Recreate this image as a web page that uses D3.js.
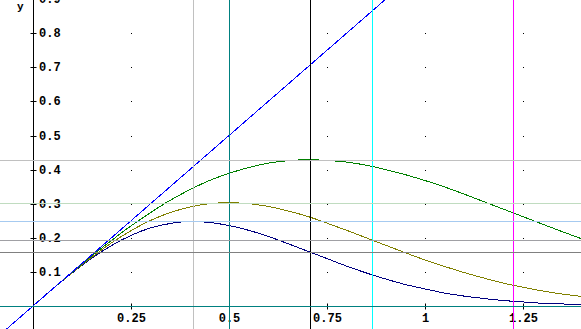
<!DOCTYPE html>
<html>
<head>
<meta charset="utf-8">
<script src="https://cdn.jsdelivr.net/npm/d3@7/dist/d3.min.js"></script>
<style>
  html, body { margin: 0; padding: 0; background: #fff; }
  svg { display: block; }
  text { font-family: "Liberation Mono", "DejaVu Sans Mono", monospace; font-weight: bold; fill: #000; }
</style>
</head>
<body>
<script>
const width = 581;
const height = 329;

// sample points
const xs = [0, 0.05, 0.1, 0.15, 0.2, 0.25, 0.3, 0.35, 0.4, 0.45, 0.5, 0.55, 0.6, 0.65, 0.7,
  0.75, 0.8, 0.85, 0.9, 0.95, 1.0, 1.05, 1.1, 1.15, 1.2, 1.25, 1.3, 1.35, 1.4];
const greenY = [0, 0.050, 0.099, 0.147, 0.192, 0.235, 0.274, 0.310, 0.341, 0.368, 0.389, 0.406,
  0.419, 0.426, 0.429, 0.427, 0.422, 0.413, 0.400, 0.385, 0.368, 0.349, 0.328, 0.306, 0.284,
  0.262, 0.240, 0.218, 0.197];
const oliveY = [0, 0.050, 0.098, 0.143, 0.185, 0.221, 0.251, 0.274, 0.290, 0.300, 0.303, 0.300,
  0.292, 0.279, 0.263, 0.243, 0.222, 0.200, 0.178, 0.156, 0.135, 0.116, 0.098, 0.082, 0.067,
  0.055, 0.044, 0.035, 0.028];
const navyY = [0, 0.050, 0.097, 0.140, 0.177, 0.207, 0.229, 0.242, 0.248, 0.245, 0.236, 0.222,
  0.204, 0.183, 0.161, 0.139, 0.117, 0.097, 0.079, 0.063, 0.050, 0.038, 0.029, 0.022, 0.016,
  0.012, 0.008, 0.006, 0.004];

// straight line y = x
const diagX = [-0.07, 0.9];
const diagY = [-0.07, 0.9];

// marker lines
const vLines = [0.408, 0.5, 0.707, 0.866, 1.225];
const vColors = ["#c0c0c0", "#008080", "#000000", "#00ffff", "#ff00ff"];
const hLines = [0.429, 0.303, 0.248, 0.193, 0.158, 0];
const hColors = ["#c0c0c0", "#c0dcc0", "#a6caf0", "#a0a0a4", "#808080", "#008080"];

const xTicks = [0.25, 0.5, 0.75, 1, 1.25];
const xTickLabels = ["0.25", "0.5", "0.75", "1", "1.25"];
const yTicks = [0.1, 0.2, 0.3, 0.4, 0.5, 0.6, 0.7, 0.8, 0.9];
const yTickLabels = ["0.1", "0.2", "0.3", "0.4", "0.5", "0.6", "0.7", "0.8", "0.9"];

const x = d3.scaleLinear().domain([0, 1]).range([33, 425]);
const y = d3.scaleLinear().domain([0, 1]).range([306, -35]);
const px = v => Math.round(x(v)) + 0.5;
const py = v => Math.round(y(v)) + 0.5;

const svg = d3.select("body").append("svg")
  .attr("width", width)
  .attr("height", height);

// grid dots
yTicks.forEach(t => {
  svg.append("g")
    .selectAll("rect")
    .data(xTicks)
    .join("rect")
    .attr("x", d => Math.round(x(d)))
    .attr("y", Math.round(y(t)))
    .attr("width", 1)
    .attr("height", 1)
    .attr("fill", "#000");
});

// axes
svg.append("line")
  .attr("x1", px(0)).attr("x2", px(0))
  .attr("y1", 0).attr("y2", height)
  .attr("stroke", "#000");
svg.append("line")
  .attr("x1", 0).attr("x2", width)
  .attr("y1", py(0)).attr("y2", py(0))
  .attr("stroke", "#000");

svg.append("g")
  .selectAll("line")
  .data(yTicks)
  .join("line")
  .attr("x1", px(0) - 3).attr("x2", px(0) + 3)
  .attr("y1", d => py(d)).attr("y2", d => py(d))
  .attr("stroke", "#000");

svg.append("g")
  .selectAll("line")
  .data(xTicks)
  .join("line")
  .attr("x1", d => px(d)).attr("x2", d => px(d))
  .attr("y1", py(0) - 3).attr("y2", py(0) + 3)
  .attr("stroke", "#000");

svg.append("g")
  .selectAll("text")
  .data(yTicks)
  .join("text")
  .attr("x", 39)
  .attr("y", d => Math.round(y(d)) + 4)
  .style("font-size", "12px")
  .text((d, i) => yTickLabels[i]);

svg.append("g")
  .selectAll("text")
  .data(xTicks)
  .join("text")
  .attr("x", d => px(d))
  .attr("y", 322)
  .attr("text-anchor", "middle")
  .style("font-size", "12px")
  .text((d, i) => xTickLabels[i]);

svg.append("text")
  .attr("x", 17)
  .attr("y", 10)
  .style("font-size", "11px")
  .text("y");

// curves
const line = d3.line()
  .x(d => x(d[0]))
  .y(d => y(d[1]))
  .curve(d3.curveMonotoneX);

const curves = [
  { ys: navyY, color: "#000080" },
  { ys: oliveY, color: "#808000" },
  { ys: greenY, color: "#008000" }
];

svg.append("g")
  .selectAll("path")
  .data(curves)
  .join("path")
  .attr("d", c => line(xs.map((v, i) => [v, c.ys[i]])))
  .attr("fill", "none")
  .attr("stroke", c => c.color)
  .attr("stroke-width", 1)
  .attr("shape-rendering", "crispEdges");

svg.append("path")
  .attr("d", d3.line().x(d => x(d[0])).y(d => y(d[1])).curve(d3.curveLinear)(diagX.map((v, i) => [v, diagY[i]])))
  .attr("fill", "none")
  .attr("stroke", "#0000ff")
  .attr("stroke-width", 1)
  .attr("shape-rendering", "crispEdges");

// marker lines on top
svg.append("g")
  .selectAll("line")
  .data(vLines)
  .join("line")
  .attr("x1", d => px(d)).attr("x2", d => px(d))
  .attr("y1", 0).attr("y2", height)
  .attr("stroke", (d, i) => vColors[i]);

svg.append("g")
  .selectAll("line")
  .data(hLines)
  .join("line")
  .attr("x1", 0).attr("x2", width)
  .attr("y1", d => py(d)).attr("y2", d => py(d))
  .attr("stroke", (d, i) => hColors[i]);
</script>
</body>
</html>
